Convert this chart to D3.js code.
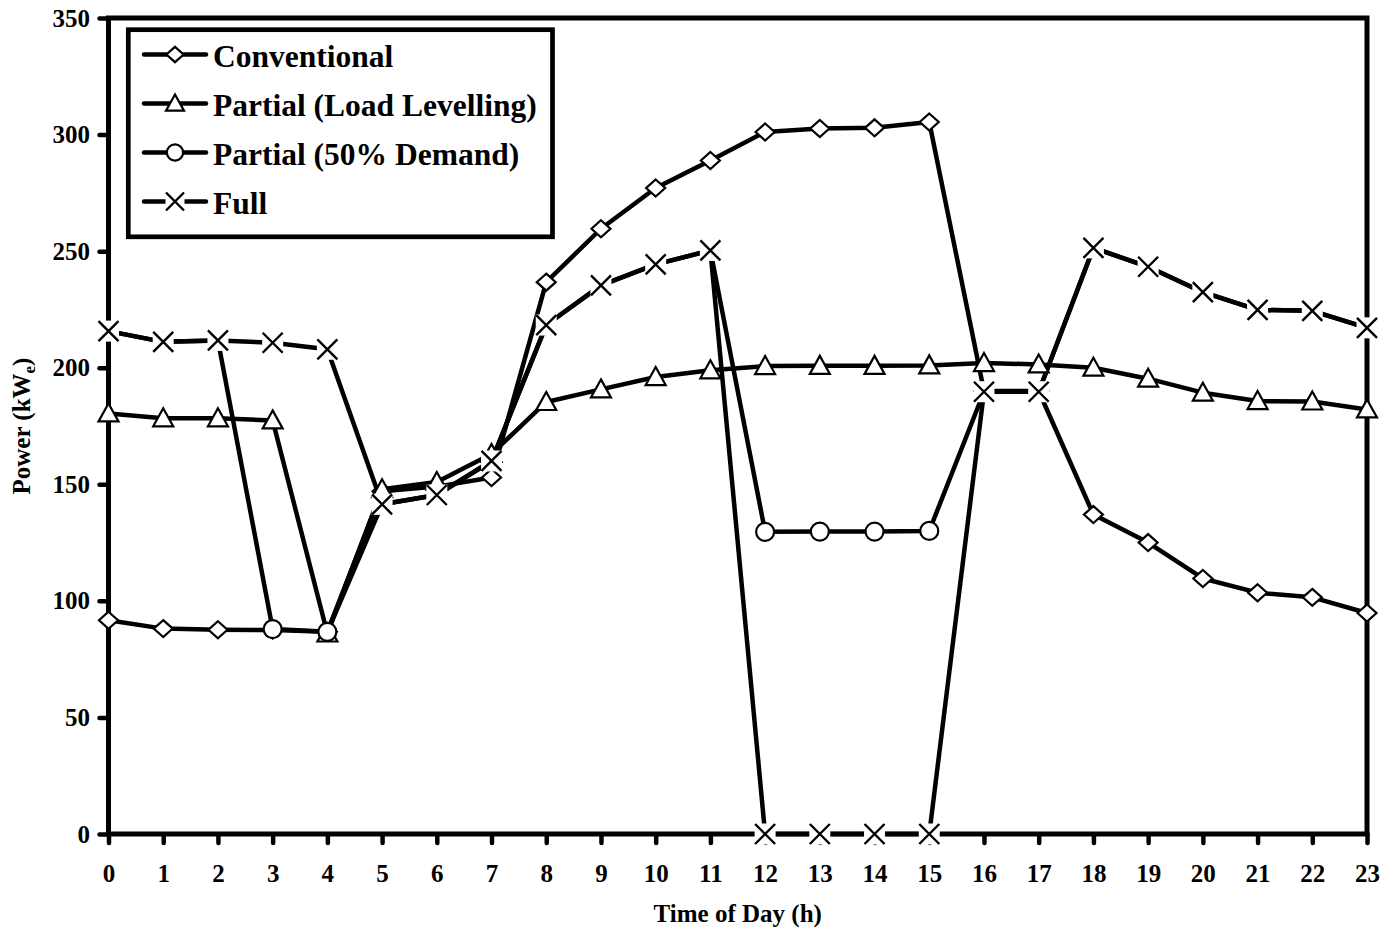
<!DOCTYPE html>
<html>
<head>
<meta charset="utf-8">
<style>
  body { margin: 0; background: #fff; }
  text { font-family: "Liberation Serif", "Times New Roman", serif; font-weight: bold; fill: #000; }
  .tick text { font-size: 25px; }
  .legendText { font-size: 31.5px; }
</style>
</head>
<body>
<svg width="1396" height="936"></svg>
<script src="https://d3js.org/d3.v7.min.js"></script>
<script>

// hours of the day
var hours = [0, 1, 2, 3, 4, 5, 6, 7, 8, 9, 10, 11, 12, 13, 14, 15, 16, 17, 18, 19, 20, 21, 22, 23];
var yTicks = [0, 50, 100, 150, 200, 250, 300, 350];

// power (kWe) per hour
var conventional = [91.7, 88.1, 87.6, 87.5, 86.8, 147, 149, 152.9, 236.7, 259.6, 277.1, 288.9,
                    301.1, 302.6, 302.9, 305.4, 190, 190, 137, 125, 109.6, 103.5, 101.5, 94.8];
var loadLevelling = [180.4, 178.3, 178.3, 177.4, 86, 147.9, 151, 163, 185.3, 190.7, 196, 198.9,
                     200.7, 200.8, 200.8, 201, 202, 201.4, 200, 195.3, 189.3, 185.7, 185.5, 182.1];
var demand50 = [215.7, 211.1, 211.7, 87.9, 86.7, 141.4, 145.4, 160, 218.3, 235.3, 244.3, 250.3,
                129.6, 129.7, 129.7, 130, 189.7, 189.7, 251.4, 243.3, 232.4, 224.8, 224.4, 217.1];
var full = [215.7, 211.1, 211.7, 210.7, 207.9, 141.4, 145.4, 160, 218.3, 235.3, 244.3, 250.3,
            0, 0, 0, 0, 189.7, 189.7, 251.4, 243.3, 232.4, 224.8, 224.4, 217.1];

var seriesNames = ["Conventional", "Partial (Load Levelling)", "Partial (50% Demand)", "Full"];
var seriesValues = [conventional, loadLevelling, demand50, full];
var seriesMarkers = ["diamond", "triangle", "circle", "cross"];

var svg = d3.select("svg");

var x = d3.scaleLinear().domain([0, 23]).range([108.5, 1367]);
var y = d3.scaleLinear().domain([0, 350]).range([834, 18]);

// axes
var yAxis = svg.append("g")
    .attr("transform", "translate(" + x(0) + ",0)")
    .call(d3.axisLeft(y).tickValues(yTicks).tickSize(9).tickPadding(9.5));
var xAxis = svg.append("g")
    .attr("transform", "translate(0," + y(0) + ")")
    .call(d3.axisBottom(x).tickValues(hours).tickSize(9).tickPadding(21.25));

[xAxis, yAxis].forEach(function(a) {
  a.select(".domain").remove();
  a.selectAll(".tick line").attr("stroke", "#000").attr("stroke-width", 4.5).attr("stroke-linecap", "round");
});

// plot frame
svg.append("rect")
    .attr("x", x(0))
    .attr("y", y(350))
    .attr("width", x(23) - x(0))
    .attr("height", y(0) - y(350))
    .attr("fill", "none")
    .attr("stroke", "#000")
    .attr("stroke-width", 5);

// axis titles
svg.append("text")
    .attr("x", (x(0) + x(23)) / 2)
    .attr("y", 922)
    .attr("text-anchor", "middle")
    .style("font-size", "25px")
    .text("Time of Day (h)");

var ylab = svg.append("text")
    .attr("transform", "translate(30," + (y(0) + y(350)) / 2 + ") rotate(-90)")
    .attr("text-anchor", "middle")
    .style("font-size", "25px");
ylab.append("tspan").text("Power (kW");
ylab.append("tspan").attr("dy", 5).style("font-size", "17px").text("e");
ylab.append("tspan").attr("dy", -5).text(")");

// series lines
var line = d3.line()
    .x(function(d, i) { return x(hours[i]); })
    .y(function(d) { return y(d); });

seriesValues.forEach(function(vals) {
  svg.append("path")
      .datum(vals)
      .attr("fill", "none")
      .attr("stroke", "#000")
      .attr("stroke-width", 4.5)
      .attr("stroke-linejoin", "round")
      .attr("d", line);
});

// marker drawing
function drawMarker(g, type, cx, cy, s) {
  if (type == "diamond") {
    g.append("path")
        .attr("d", "M" + cx + "," + (cy - 8.5 * s) + "L" + (cx + 9.5 * s) + "," + cy +
                   "L" + cx + "," + (cy + 8.5 * s) + "L" + (cx - 9.5 * s) + "," + cy + "Z")
        .attr("fill", "#fff").attr("stroke", "#000").attr("stroke-width", 2.2);
  } else if (type == "triangle") {
    g.append("path")
        .attr("d", "M" + cx + "," + (cy - 10 * s) + "L" + (cx + 10 * s) + "," + (cy + 8 * s) +
                   "L" + (cx - 10 * s) + "," + (cy + 8 * s) + "Z")
        .attr("fill", "#fff").attr("stroke", "#000").attr("stroke-width", 2.2);
  } else if (type == "circle") {
    g.append("circle")
        .attr("cx", cx).attr("cy", cy).attr("r", 9 * s)
        .attr("fill", "#fff").attr("stroke", "#000").attr("stroke-width", 2.2);
  } else {
    var h = 10 * s;
    g.append("rect")
        .attr("x", cx - h - 0.5).attr("y", cy - h - 0.5)
        .attr("width", 2 * h + 1).attr("height", 2 * h + 1)
        .attr("fill", "#fff");
    g.append("path")
        .attr("d", "M" + (cx - h) + "," + (cy - h) + "L" + (cx + h) + "," + (cy + h) +
                   "M" + (cx + h) + "," + (cy - h) + "L" + (cx - h) + "," + (cy + h))
        .attr("fill", "none").attr("stroke", "#000").attr("stroke-width", 2.4);
  }
}

var markers = svg.append("g");
seriesValues.forEach(function(vals, k) {
  vals.forEach(function(v, i) {
    drawMarker(markers, seriesMarkers[k], x(hours[i]), y(v), 1);
  });
});

// legend
var legend = svg.append("g");
legend.append("rect")
    .attr("x", 128.3)
    .attr("y", 29.7)
    .attr("width", 424.2)
    .attr("height", 207.1)
    .attr("fill", "#fff")
    .attr("stroke", "#000")
    .attr("stroke-width", 4.7);

seriesNames.forEach(function(name, i) {
  var base = 67 + i * 49;
  var ly = base - 12.5;
  legend.append("line")
      .attr("x1", 144).attr("x2", 206)
      .attr("y1", ly).attr("y2", ly)
      .attr("stroke", "#000")
      .attr("stroke-width", 4.5)
      .attr("stroke-linecap", "round");
  drawMarker(legend, seriesMarkers[i], 175, ly, 0.9);
  legend.append("text")
      .attr("class", "legendText")
      .attr("x", 213)
      .attr("y", base)
      .text(name);
});

</script>
</body>
</html>
